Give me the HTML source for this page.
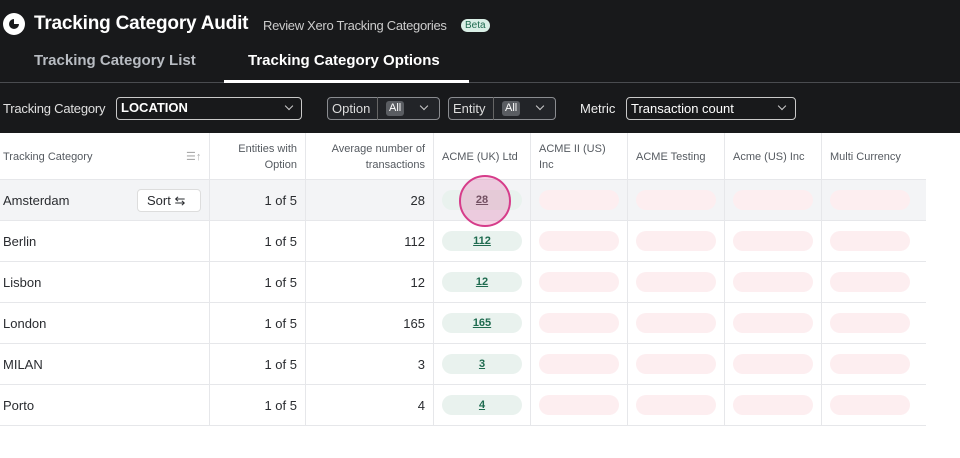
<!DOCTYPE html>
<html><head><style>
*{box-sizing:border-box;margin:0;padding:0}
body{width:960px;height:458px;background:#fff;font-family:"Liberation Sans",sans-serif;position:relative;overflow:hidden}
.top{position:absolute;left:0;top:0;width:960px;height:133px;background:#18191b;color:#fff}
.a{position:absolute;white-space:nowrap}
.sel{position:absolute;border:1px solid #8a8c90;border-radius:4px;height:23px}
.chev{position:absolute;width:6px;height:6px;border-right:1.3px solid #ccc;border-bottom:1.3px solid #ccc;transform:rotate(45deg)}
.all{position:absolute;background:#5a5d62;border-radius:3px;font-size:11px;color:#fff;padding:1px 3px;height:15px;line-height:13px}
.vl{position:absolute;top:133px;height:292px;width:1px;background:#e6e7ea}
.hl{position:absolute;left:0;width:926px;height:1px;background:#e6e7ea}
.c{position:absolute;font-size:13px;color:#2a2c30}
.h{position:absolute;font-size:11px;color:#555a60;line-height:16px}
.pg{position:absolute;left:442px;width:80px;height:20px;border-radius:10px;background:#e9f2ee;font-size:11px;color:#1e6b4f;text-decoration:underline;text-align:center;line-height:20px;font-weight:bold}
.pr{position:absolute;width:80px;height:20px;border-radius:10px;background:#fdeef0}
</style></head><body>
<div class="top">
 <div class="a" style="left:3px;top:13px;width:22px;height:22px;border-radius:50%;background:#fff"></div>
 <div class="a" style="left:9px;top:19px;width:10px;height:10px;border-radius:50%;background:#18191b"></div>
 <div class="a" style="left:14px;top:18px;width:6px;height:6px;background:#fff"></div>
 <div class="a" style="left:34px;top:13px;font-size:19px;font-weight:bold;letter-spacing:-0.2px">Tracking Category Audit</div>
 <div class="a" style="left:263px;top:18px;font-size:13px;color:#ccc;letter-spacing:-0.3px">Review Xero Tracking Categories</div>
 <div class="a" style="left:461px;top:19px;font-size:10px;background:#d9efe6;color:#1e6b4f;border-radius:8px;padding:1px 4px">Beta</div>
 <div class="a" style="left:34px;top:52px;font-size:15px;font-weight:bold;color:#b8bcc2">Tracking Category List</div>
 <div class="a" style="left:248px;top:52px;font-size:15px;font-weight:bold;color:#fff">Tracking Category Options</div>
 <div class="a" style="left:0;top:82px;width:960px;height:1px;background:#4a4c50"></div>
 <div class="a" style="left:224px;top:80px;width:245px;height:3px;background:#fff"></div>
 <div class="a" style="left:3px;top:101px;font-size:13px;color:#e0e0e0;letter-spacing:-0.2px">Tracking Category</div>
 <div class="sel" style="left:116px;top:97px;width:186px;border-color:#c9c9c9"></div>
 <div class="a" style="left:121px;top:100px;font-size:13px;font-weight:bold">LOCATION</div>
 <div class="chev" style="left:286px;top:103px"></div>
 <div class="sel" style="left:327px;top:97px;width:113px;background:#222428"></div>
 <div class="a" style="left:332px;top:101px;font-size:13px;color:#ddd">Option</div>
 <div class="a" style="left:377px;top:97px;width:1px;height:23px;background:#666"></div>
 <div class="all" style="left:386px;top:101px">All</div>
 <div class="chev" style="left:421px;top:103px"></div>
 <div class="sel" style="left:448px;top:97px;width:108px;background:#222428"></div>
 <div class="a" style="left:453px;top:101px;font-size:13px;color:#ddd">Entity</div>
 <div class="a" style="left:493px;top:97px;width:1px;height:23px;background:#666"></div>
 <div class="all" style="left:502px;top:101px">All</div>
 <div class="chev" style="left:537px;top:103px"></div>
 <div class="a" style="left:580px;top:101px;font-size:13px;color:#eee">Metric</div>
 <div class="sel" style="left:626px;top:97px;width:170px;border-color:#c9c9c9"></div>
 <div class="a" style="left:631px;top:101px;font-size:13px;color:#fff">Transaction count</div>
 <div class="chev" style="left:779px;top:103px"></div>
</div>
<div class="a" style="left:0;top:179px;width:926px;height:41px;background:#f3f4f6"></div>
<div class="vl" style="left:209px"></div><div class="vl" style="left:305px"></div><div class="vl" style="left:433px"></div><div class="vl" style="left:530px"></div><div class="vl" style="left:627px"></div><div class="vl" style="left:724px"></div><div class="vl" style="left:821px"></div>
<div class="hl" style="top:179px"></div><div class="hl" style="top:220px"></div><div class="hl" style="top:261px"></div><div class="hl" style="top:302px"></div><div class="hl" style="top:343px"></div><div class="hl" style="top:384px"></div><div class="hl" style="top:425px"></div>
<div class="h" style="left:3px;top:149px">Tracking Category</div>
<div class="h" style="left:186px;top:149px;color:#aaa">☰↑</div>
<div class="h" style="left:210px;top:141px;width:87px;text-align:right">Entities with<br>Option</div>
<div class="h" style="left:306px;top:141px;width:119px;text-align:right">Average number of<br>transactions</div>
<div class="h" style="left:442px;top:149px">ACME (UK) Ltd</div>
<div class="h" style="left:539px;top:141px">ACME II (US)<br>Inc</div>
<div class="h" style="left:636px;top:149px">ACME Testing</div>
<div class="h" style="left:733px;top:149px">Acme (US) Inc</div>
<div class="h" style="left:830px;top:149px">Multi Currency</div>
<div class="a" style="left:137px;top:189px;width:64px;height:23px;border:1px solid #ddd;border-radius:4px;background:#fff;font-size:13px;padding:3px 9px;color:#2a2c30">Sort ⇆</div>
<div class="c" style="left:3px;top:193px">Amsterdam</div>
<div class="c" style="left:3px;top:234px">Berlin</div>
<div class="c" style="left:3px;top:275px">Lisbon</div>
<div class="c" style="left:3px;top:316px">London</div>
<div class="c" style="left:3px;top:357px">MILAN</div>
<div class="c" style="left:3px;top:398px">Porto</div>
<div class="c" style="left:210px;top:193px;width:87px;text-align:right">1 of 5</div>
<div class="c" style="left:210px;top:234px;width:87px;text-align:right">1 of 5</div>
<div class="c" style="left:210px;top:275px;width:87px;text-align:right">1 of 5</div>
<div class="c" style="left:210px;top:316px;width:87px;text-align:right">1 of 5</div>
<div class="c" style="left:210px;top:357px;width:87px;text-align:right">1 of 5</div>
<div class="c" style="left:210px;top:398px;width:87px;text-align:right">1 of 5</div>
<div class="c" style="left:306px;top:193px;width:119px;text-align:right">28</div>
<div class="c" style="left:306px;top:234px;width:119px;text-align:right">112</div>
<div class="c" style="left:306px;top:275px;width:119px;text-align:right">12</div>
<div class="c" style="left:306px;top:316px;width:119px;text-align:right">165</div>
<div class="c" style="left:306px;top:357px;width:119px;text-align:right">3</div>
<div class="c" style="left:306px;top:398px;width:119px;text-align:right">4</div>
<div class="pg" style="top:190px;color:#555">28</div>
<div class="pg" style="top:231px">112</div>
<div class="pg" style="top:272px">12</div>
<div class="pg" style="top:313px">165</div>
<div class="pg" style="top:354px">3</div>
<div class="pg" style="top:395px">4</div>
<div class="a" style="left:459px;top:175px;width:52px;height:52px;border-radius:50%;border:2px solid #d63c8a;background:rgba(214,60,138,0.22)"></div>
<div class="pr" style="left:539px;top:190px"></div><div class="pr" style="left:636px;top:190px"></div><div class="pr" style="left:733px;top:190px"></div><div class="pr" style="left:830px;top:190px"></div>
<div class="pr" style="left:539px;top:231px"></div><div class="pr" style="left:636px;top:231px"></div><div class="pr" style="left:733px;top:231px"></div><div class="pr" style="left:830px;top:231px"></div>
<div class="pr" style="left:539px;top:272px"></div><div class="pr" style="left:636px;top:272px"></div><div class="pr" style="left:733px;top:272px"></div><div class="pr" style="left:830px;top:272px"></div>
<div class="pr" style="left:539px;top:313px"></div><div class="pr" style="left:636px;top:313px"></div><div class="pr" style="left:733px;top:313px"></div><div class="pr" style="left:830px;top:313px"></div>
<div class="pr" style="left:539px;top:354px"></div><div class="pr" style="left:636px;top:354px"></div><div class="pr" style="left:733px;top:354px"></div><div class="pr" style="left:830px;top:354px"></div>
<div class="pr" style="left:539px;top:395px"></div><div class="pr" style="left:636px;top:395px"></div><div class="pr" style="left:733px;top:395px"></div><div class="pr" style="left:830px;top:395px"></div>
</body></html>
